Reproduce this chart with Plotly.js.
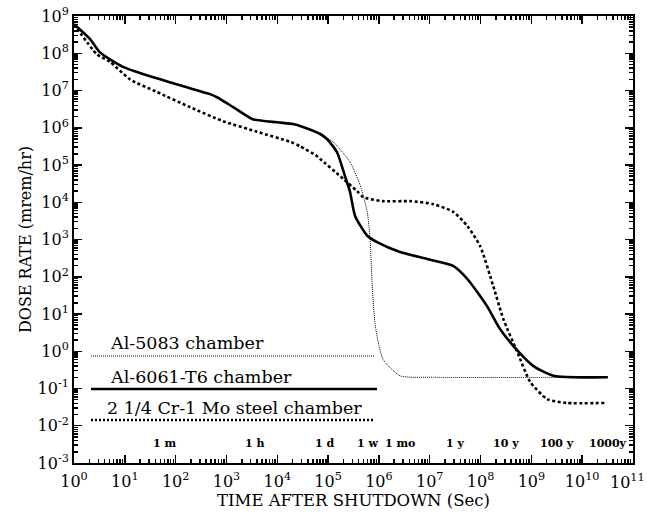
<!DOCTYPE html>
<html>
<head>
<meta charset="utf-8">
<script src="https://cdn.plot.ly/plotly-3.0.1.min.js"></script>
<style>html,body{margin:0;padding:0;background:#fff;}#chart{width:647px;height:514px;}</style>
</head>
<body>
<div id="chart"></div>
<script>
// Al-6061-T6 chamber (solid)
const solidT = [1, 2.07, 3.2, 9.2, 31.4, 140, 475, 650, 1350, 3300, 1.0e4, 2.05e4, 2.8e4, 7.0e4, 9.5e4, 1.5e5, 2.15e5, 2.7e5, 3.4e5, 5.9e5, 9.2e5, 2.6e6, 8.9e6, 2.9e7, 5.5e7, 1.35e8, 2.4e8, 4.4e8, 1.1e9, 2.7e9, 3.2e10];
const solidD = [6e8, 2.4e8, 1.07e8, 4.3e7, 2.4e7, 1.3e7, 8.0e6, 6.6e6, 3.6e6, 1.7e6, 1.4e6, 1.26e6, 1.12e6, 6.8e5, 5.0e5, 2.2e5, 5.0e4, 1.9e4, 4.3e3, 1.26e3, 850, 460, 300, 195, 87, 16, 4, 1.4, 0.4, 0.22, 0.2];

// Al-5083 chamber (thin dotted)
const dottedT = [1, 2.07, 3.2, 9.2, 31.4, 140, 475, 650, 1350, 3300, 1.0e4, 2.05e4, 2.8e4, 7.0e4, 9.5e4, 1.26e5, 2.7e5, 4.3e5, 5.9e5, 6.7e5, 7.4e5, 8.5e5, 1.2e6, 2.6e6, 1.17e7, 3.2e10];
const dottedD = [6e8, 2.4e8, 1.07e8, 4.3e7, 2.4e7, 1.3e7, 8.0e6, 6.6e6, 3.6e6, 1.7e6, 1.4e6, 1.26e6, 1.12e6, 6.8e5, 5.2e5, 4.2e5, 1.2e5, 2.8e4, 5.5e3, 1.0e3, 56, 4.8, 0.62, 0.22, 0.2, 0.2];

// 2 1/4 Cr-1 Mo steel chamber (dashed)
const dashT = [1, 2.8, 5.1, 12.6, 43, 190, 860, 4000, 1.8e4, 2.8e4, 6.0e4, 7.0e4, 1.73e5, 2.0e5, 3.7e5, 4.9e5, 1.2e6, 4.1e6, 1.17e7, 2.9e7, 5.5e7, 9.8e7, 1.78e8, 2.8e8, 5.3e8, 9.5e8, 2.05e9, 5.0e9, 3.1e10];
const dashD = [6e8, 9.5e7, 5.9e7, 2.0e7, 9.1e6, 3.6e6, 1.5e6, 7.8e5, 4.2e5, 3.2e5, 1.74e5, 1.45e5, 5.0e4, 4.2e4, 2.0e4, 1.38e4, 1.07e4, 1.07e4, 8.9e3, 5.5e3, 2.3e3, 670, 56, 7.4, 0.95, 0.15, 0.052, 0.041, 0.041];

const seriesNames = ["Al-5083 chamber", "Al-6061-T6 chamber", "2 1/4 Cr-1 Mo steel chamber"];

// Time markers along the bottom
const timeLabels = ["1 m", "1 h", "1 d", "1 w", "1 mo", "1 y", "10 y", "100 y", "1000y"];
const timeSeconds = [60, 3600, 86400, 604800, 2.63e6, 3.156e7, 3.156e8, 3.156e9, 3.156e10];

const xExp = [0,1,2,3,4,5,6,7,8,9,10,11];
const yExp = [-3,-2,-1,0,1,2,3,4,5,6,7,8,9];

const FONT = "DejaVu Serif, Liberation Serif, serif";

const traces = [
  {x: dottedT, y: dottedD, mode: "lines", name: seriesNames[0], line: {color: "#000", width: 1, dash: "1px,1px", shape: "spline", smoothing: 0.6}},
  {x: dashT, y: dashD, mode: "lines", name: seriesNames[2], line: {color: "#000", width: 2.6, dash: "3px,2.5px", shape: "spline", smoothing: 0.6}},
  {x: solidT, y: solidD, mode: "lines", name: seriesNames[1], line: {color: "#000", width: 2.6, shape: "spline", smoothing: 0.6}}
];

const L = 74, R = 633, T = 16, B = 463, W = 647, H = 514;
const px = v => (v - L) / (R - L);
const py = v => (B - v) / (B - T);

const lastExp = xExp[xExp.length - 1];
const xTickText = xExp.map(e => e === lastExp ? "" : "10<sup>" + e + "</sup>");

const annotations = [];
annotations.push({xref: "paper", yref: "paper", x: px(108), y: py(343), xanchor: "left", yanchor: "middle", text: seriesNames[0], showarrow: false, font: {family: FONT, size: 17.5, color: "#000"}});
annotations.push({xref: "paper", yref: "paper", x: px(108), y: py(377), xanchor: "left", yanchor: "middle", text: seriesNames[1], showarrow: false, font: {family: FONT, size: 17.5, color: "#000"}});
annotations.push({xref: "paper", yref: "paper", x: px(105), y: py(408), xanchor: "left", yanchor: "middle", text: seriesNames[2], showarrow: false, font: {family: FONT, size: 17.5, color: "#000"}});
timeLabels.forEach((lab, i) => {
  annotations.push({xref: "x", yref: "paper", x: Math.log10(timeSeconds[i]), y: py(443), xanchor: "center", yanchor: "middle", text: lab, showarrow: false, font: {family: FONT, size: 11, color: "#000", weight: "bold"}});
});
// last x tick label, nudged to stay inside the page
annotations.push({xref: "paper", yref: "paper", x: px(646), y: py(481), xanchor: "right", yanchor: "middle", text: "10<sup>" + lastExp + "</sup>", showarrow: false, font: {family: FONT, size: 16, color: "#000"}, borderpad: 0});

const shapes = [
  {type: "line", xref: "paper", yref: "paper", x0: px(91), x1: px(375), y0: py(356), y1: py(356), line: {color: "#000", width: 1.2, dash: "1px,1px"}},
  {type: "line", xref: "paper", yref: "paper", x0: px(91), x1: px(377), y0: py(389), y1: py(389), line: {color: "#000", width: 2.6}},
  {type: "line", xref: "paper", yref: "paper", x0: px(91), x1: px(373), y0: py(420), y1: py(420), line: {color: "#000", width: 2.6, dash: "2px,2px"}}
];

const layout = {
  width: W, height: H,
  margin: {l: L, r: W - R, t: T, b: H - B},
  paper_bgcolor: "#fff", plot_bgcolor: "#fff",
  showlegend: false,
  font: {family: FONT, color: "#000"},
  xaxis: {
    type: "log", range: [-0.0002, 11.0002],
    tickvals: xExp.map(e => Math.pow(10, e)),
    ticktext: xTickText,
    tickfont: {family: FONT, size: 16},
    ticklabelstandoff: 3,
    ticks: "inside", ticklen: 8, tickwidth: 1.5, tickcolor: "#000",
    minor: {ticks: "inside", ticklen: 4, tickcolor: "#000", dtick: "D1"},
    showline: true, linecolor: "#000", linewidth: 2, mirror: "allticks",
    showgrid: false, zeroline: false,
    title: {text: "TIME AFTER SHUTDOWN (Sec)", font: {family: FONT, size: 16.5}, standoff: 1}
  },
  yaxis: {
    type: "log", range: [-3.0002, 9.0002],
    tickvals: yExp.map(e => Math.pow(10, e)),
    ticktext: yExp.map(e => "10<sup>" + e + "</sup>"),
    tickfont: {family: FONT, size: 16},
    ticks: "inside", ticklen: 8, tickwidth: 1.5, tickcolor: "#000",
    minor: {ticks: "inside", ticklen: 4, tickcolor: "#000", dtick: "D1"},
    showline: true, linecolor: "#000", linewidth: 2, mirror: "allticks",
    showgrid: false, zeroline: false,
    title: {text: "DOSE RATE (mrem/hr)", font: {family: FONT, size: 16}, standoff: 2}
  },
  annotations: annotations,
  shapes: shapes
};

Plotly.newPlot("chart", traces, layout, {staticPlot: true, displayModeBar: false});
</script>
</body>
</html>
